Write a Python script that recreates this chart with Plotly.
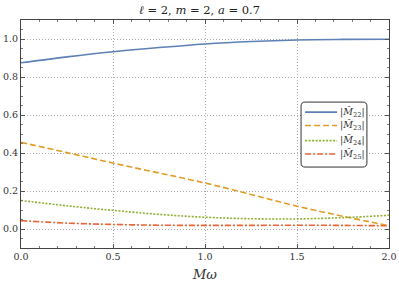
import plotly.graph_objects as go

x_vals = [0.0, 0.25, 0.5, 0.75, 1.0, 1.25, 1.5, 1.75, 2.0]
m22 = [0.875, 0.906, 0.933, 0.955, 0.974, 0.987, 0.995, 0.998, 0.999]
m23 = [0.456, 0.402, 0.347, 0.295, 0.242, 0.182, 0.120, 0.067, 0.017]
m24 = [0.150, 0.122, 0.098, 0.077, 0.062, 0.054, 0.053, 0.060, 0.072]
m25 = [0.044, 0.031, 0.024, 0.020, 0.019, 0.019, 0.020, 0.019, 0.017]

names = ["|<i>M̂</i><sub>22</sub>|", "|<i>M̂</i><sub>23</sub>|",
         "|<i>M̂</i><sub>24</sub>|", "|<i>M̂</i><sub>25</sub>|"]
colors = ["#5E81B5", "#E19C24", "#8FB032", "#EB6235"]
dashes = ["solid", "6px,3px", "2px,1.5px", "6px,2px,2px,2px"]
series = [m22, m23, m24, m25]

FONT = "DejaVu Serif"

fig = go.Figure()
for ys, nm, c, d in zip(series, names, colors, dashes):
    fig.add_trace(go.Scatter(x=x_vals, y=ys, mode="lines", name=nm, showlegend=False,
                             line=dict(color=c, dash=d, width=1.6, shape="spline")))

# manual legend (paper coordinates)
bx0, bx1, by0, by1 = 0.761, 0.940, 0.355, 0.640
rx, ry = 0.011, 0.018
path = (f"M {bx0+rx},{by0} L {bx1-rx},{by0} Q {bx1},{by0} {bx1},{by0+ry} "
        f"L {bx1},{by1-ry} Q {bx1},{by1} {bx1-rx},{by1} "
        f"L {bx0+rx},{by1} Q {bx0},{by1} {bx0},{by1-ry} "
        f"L {bx0},{by0+ry} Q {bx0},{by0} {bx0+rx},{by0} Z")
fig.add_shape(type="path", path=path, xref="paper", yref="paper",
              line=dict(color="#333", width=1), fillcolor="white", layer="above")
entry_y = [0.596, 0.537, 0.471, 0.412]
for yy, nm, c, d in zip(entry_y, names, colors, dashes):
    fig.add_shape(type="line", xref="paper", yref="paper", x0=0.772, x1=0.859, y0=yy, y1=yy,
                  line=dict(color=c, dash=d, width=1.6), layer="above")
    fig.add_annotation(x=0.862, y=yy, xref="paper", yref="paper", text=nm, showarrow=False,
                       xanchor="left", yanchor="middle",
                       font=dict(family=FONT, size=9.5, color="#333"))

axis_common = dict(
    showline=True, linecolor="#444", linewidth=1, mirror="ticks",
    ticks="inside", ticklen=4, tickcolor="#555", tickwidth=0.8,
    showgrid=True, gridcolor="#aaa", griddash="1px,2px", gridwidth=1,
    zeroline=False, automargin=False, ticklabeloverflow="allow",
    tickfont=dict(family=FONT, size=9.5, color="#333"),
)
fig.update_layout(
    width=399, height=292,
    margin=dict(l=21, r=10, t=20, b=44),
    paper_bgcolor="white", plot_bgcolor="white",
    font=dict(family=FONT),
    title=dict(text="<i>ℓ</i> = 2, <i>m</i> = 2, <i>a</i> = 0.7",
               x=0.5, xanchor="center", y=0.965, yanchor="middle",
               font=dict(family=FONT, size=11.5, color="#222")),
    xaxis=dict(range=[0, 2], tickvals=[0, 0.5, 1, 1.5, 2],
               ticktext=["0.0", "0.5", "1.0", "1.5", "2.0"],
               minor=dict(dtick=0.1, tick0=0, ticks="inside", ticklen=2, tickcolor="#777", showgrid=False),
               title=dict(text="<i>Mω</i>", standoff=8,
                          font=dict(family=FONT, size=13, color="#333")),
               **axis_common),
    yaxis=dict(range=[-0.1, 1.1], tickvals=[0, 0.2, 0.4, 0.6, 0.8, 1.0],
               ticktext=["0.0", "0.2", "0.4", "0.6", "0.8", "1.0"],
               minor=dict(dtick=0.05, tick0=0, ticks="inside", ticklen=2, tickcolor="#777", showgrid=False),
               **axis_common),
    showlegend=False,
)
fig.write_html("out.html", config={"displayModeBar": False},
               post_script="document.body.style.margin='0';")
